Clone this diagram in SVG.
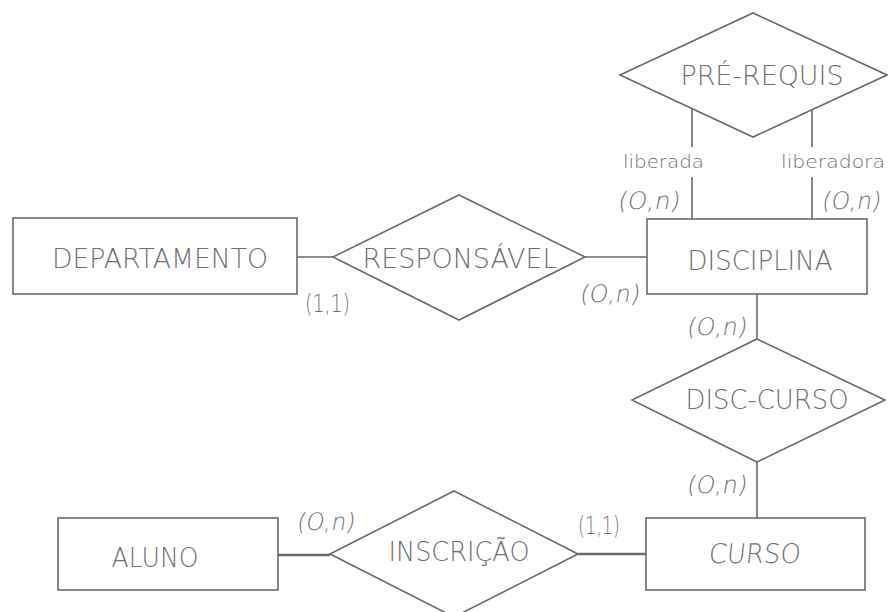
<svg xmlns="http://www.w3.org/2000/svg" width="888" height="612" viewBox="0 0 888 612">
<style>
  .shape { fill: #ffffff; stroke: #6a6a6a; stroke-width: 1.6; }
  .conn { stroke: #6a6a6a; stroke-width: 1.6; fill: none; }
  .thick { stroke-width: 2.6; }
  .lbl { font-family: "DejaVu Sans", "Liberation Sans", sans-serif; font-weight: 200; font-size: 27px; fill: #707070; text-anchor: middle; }
  .card { font-family: "DejaVu Sans", "Liberation Sans", sans-serif; font-weight: 200; font-size: 24px; fill: #707070; }
  .role { font-family: "DejaVu Sans", "Liberation Sans", sans-serif; font-weight: 200; font-size: 18px; fill: #707070; }
</style>
<rect width="888" height="612" fill="#ffffff"/>
<g id="connectors">
  <line class="conn" x1="297" y1="257" x2="333" y2="257"/>
  <line class="conn" x1="585" y1="257" x2="647" y2="257"/>
  <line class="conn" x1="692" y1="108" x2="692" y2="147"/>
  <line class="conn" x1="692" y1="177" x2="692" y2="219"/>
  <line class="conn" x1="812" y1="110" x2="812" y2="147"/>
  <line class="conn" x1="812" y1="177" x2="812" y2="219"/>
  <line class="conn" x1="757" y1="294" x2="757" y2="339"/>
  <line class="conn" x1="757" y1="462" x2="757" y2="518"/>
  <line class="conn thick" x1="278" y1="555" x2="330" y2="555"/>
  <line class="conn thick" x1="578" y1="554" x2="646" y2="554"/>
  <text class="role" x="623" y="168" textLength="81" lengthAdjust="spacingAndGlyphs">liberada</text>
  <text class="role" x="781" y="168" textLength="104" lengthAdjust="spacingAndGlyphs">liberadora</text>
  <text class="card" transform="translate(617,209) skewX(-10)" textLength="62" lengthAdjust="spacingAndGlyphs">(O,n)</text>
  <text class="card" transform="translate(821,209) skewX(-10)" textLength="59" lengthAdjust="spacingAndGlyphs">(O,n)</text>
  <text class="card" x="305" y="312" textLength="45" lengthAdjust="spacingAndGlyphs">(1,1)</text>
  <text class="card" transform="translate(579,302) skewX(-10)" textLength="60" lengthAdjust="spacingAndGlyphs">(O,n)</text>
  <text class="card" transform="translate(686,335) skewX(-10)" textLength="60" lengthAdjust="spacingAndGlyphs">(O,n)</text>
  <text class="card" transform="translate(686,493) skewX(-10)" textLength="60" lengthAdjust="spacingAndGlyphs">(O,n)</text>
  <text class="card" transform="translate(296,530) skewX(-10)" textLength="58" lengthAdjust="spacingAndGlyphs">(O,n)</text>
  <text class="card" x="578" y="534" textLength="42" lengthAdjust="spacingAndGlyphs">(1,1)</text>
</g>
<g id="departamento">
  <rect class="shape" x="13" y="218" width="284" height="76"/>
  <text class="lbl" x="160" y="268" textLength="216" lengthAdjust="spacingAndGlyphs">DEPARTAMENTO</text>
</g>
<g id="responsavel">
  <polygon class="shape" points="333,257 459,195 585,257 459,320"/>
  <text class="lbl" x="460" y="268" textLength="195" lengthAdjust="spacingAndGlyphs">RESPONSÁVEL</text>
</g>
<g id="disciplina">
  <rect class="shape" x="647" y="219" width="220" height="75"/>
  <text class="lbl" x="760" y="270" textLength="145" lengthAdjust="spacingAndGlyphs">DISCIPLINA</text>
</g>
<g id="pre-requis">
  <polygon class="shape" points="620,75 753,13 887,75 753,137"/>
  <text class="lbl" x="762" y="85" textLength="163" lengthAdjust="spacingAndGlyphs">PRÉ-REQUIS</text>
</g>
<g id="disc-curso">
  <polygon class="shape" points="632,400 757,339 885,400 757,462"/>
  <text class="lbl" x="767" y="409" textLength="163" lengthAdjust="spacingAndGlyphs">DISC-CURSO</text>
</g>
<g id="aluno">
  <rect class="shape" x="58" y="518" width="220" height="72"/>
  <text class="lbl" x="155" y="567" textLength="87" lengthAdjust="spacingAndGlyphs">ALUNO</text>
</g>
<g id="inscricao">
  <polygon class="shape" points="330,554 454,491 578,554 454,617"/>
  <text class="lbl" x="459" y="561" textLength="141" lengthAdjust="spacingAndGlyphs">INSCRIÇÃO</text>
</g>
<g id="curso">
  <rect class="shape" x="646" y="518" width="219" height="72"/>
  <text class="lbl" transform="translate(754,563) skewX(-6)" textLength="92" lengthAdjust="spacingAndGlyphs">CURSO</text>
</g>
</svg>
